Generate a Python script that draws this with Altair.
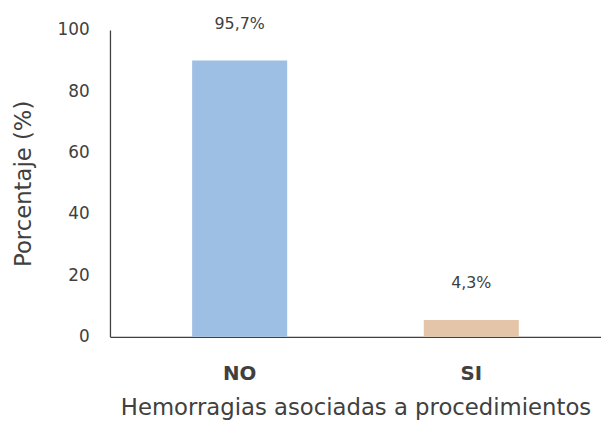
import altair as alt
import pandas as pd

categories = ["NO", "SI"]
bar_values = [90.0, 5.5]
labels = ["95,7%", "4,3%"]
colors = ["#9DBFE4", "#E5C5A9"]

df = pd.DataFrame({"cat": categories, "val": bar_values, "lab": labels, "col": colors})

FONT = "DejaVu Sans"
TXT = "#404040"

x = alt.X("cat:N", sort=categories,
          scale=alt.Scale(paddingInner=0.59, paddingOuter=0.355),
          axis=alt.Axis(title="Hemorragias asociadas a procedimientos", labelAngle=0,
                        ticks=False, labelFontWeight="bold", labelFontSize=20,
                        labelFont=FONT, labelColor=TXT, labelPadding=27,
                        titleFont=FONT, titleFontSize=23, titleFontWeight="normal",
                        titleColor=TXT, titlePadding=14,
                        domainColor="#404040", domainWidth=1.3))
y = alt.Y("val:Q", scale=alt.Scale(domain=[0, 100]),
          axis=alt.Axis(title="Porcentaje (%)", values=[0, 20, 40, 60, 80, 100],
                        ticks=False, grid=False, labelFont=FONT, labelFontSize=17,
                        labelColor=TXT, labelPadding=21,
                        titleFont=FONT, titleFontSize=23, titleFontWeight="normal",
                        titleColor=TXT, titlePadding=22,
                        domainColor="#404040", domainWidth=1.3))

bars = alt.Chart(df).mark_bar(size=96).encode(
    x=x, y=y, color=alt.Color("col:N", scale=None)
)
text = alt.Chart(df).mark_text(dy=-29, baseline="bottom", font=FONT, fontSize=16,
                                color=TXT).encode(
    x=alt.X("cat:N", sort=categories), y="val:Q", text="lab:N"
)

chart = (bars + text).properties(
    width=496, height=310,
    autosize=alt.AutoSizeParams(type="none"),
    padding={"left": 103, "top": 20, "right": 0, "bottom": 89},
).configure_view(stroke=None)

chart.save("out.html", embed_options={"renderer": "svg", "actions": False})
